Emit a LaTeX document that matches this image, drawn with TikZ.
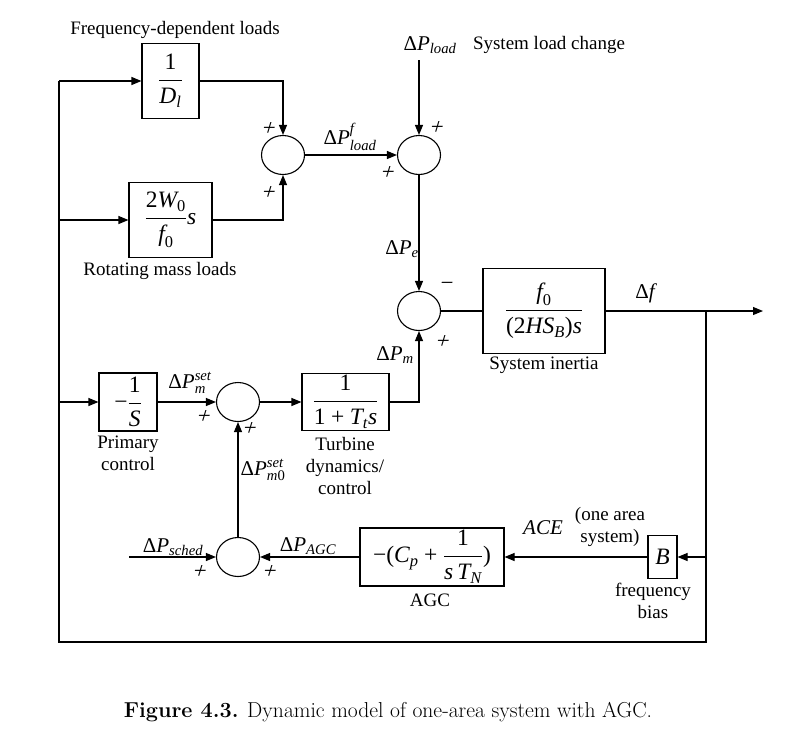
\documentclass[tikz,border=0pt]{standalone}
\usepackage{fontspec}
\usepackage{amsmath}
\usetikzlibrary{shapes.geometric,arrows.meta}
\newfontfamily\tnr{Liberation Serif}
\newcommand\tu[1]{\text{\tnr #1}}
\newcommand\ti[1]{\text{\tnr\itshape #1}}
\newcommand\tfont{\tnr\fontsize{19}{22}\selectfont}
\newcommand\mfont{\fontsize{21}{24}\selectfont}
\newcommand\bfont{\fontsize{23.5}{26}\selectfont}
\begin{document}
\begin{tikzpicture}[x=1pt,y=-1pt,line width=1.1pt,
  >={Triangle[length=10pt,width=8pt]},
  blk/.style={draw,rectangle,inner sep=0pt,font=\bfont},
  sm/.style={draw,ellipse,minimum width=43pt,minimum height=39pt,inner sep=0pt},
  lbl/.style={font=\tfont,inner sep=0pt,align=center},
  mlbl/.style={font=\mfont,inner sep=0pt},
  pl/.style={font=\fontsize{23}{24}\selectfont,inner sep=0pt,xslant=0.3}]
\useasboundingbox (0,0) rectangle (811,740);
% blocks
\node[blk,minimum width=57pt,minimum height=75pt] (D) at (170.5,81) {$\dfrac{\tu{1}}{\ti{D}_{\ti{l}}}$};
\node[blk,minimum width=83pt,minimum height=75pt] (W) at (170.5,220) {$\dfrac{\tu{2}\ti{W}_{\tu{0}}}{\ti{f}_{\tu{0}}}\ti{s}$};
\node[sm] (s1) at (283,155) {};
\node[sm] (s2) at (419,155) {};
\node[sm] (s3) at (419,311) {};
\node[blk,minimum width=122pt,minimum height=85pt] (I) at (544,311) {$\dfrac{\ti{f}_{\tu{0}}}{\tu{(2}\ti{HS}_{\ti{B}}\tu{)}\ti{s}}$};
\node[blk,minimum width=58pt,minimum height=58pt] (P) at (128,402) {$\tu{−}\dfrac{\tu{1}}{\ti{S}}$};
\node[sm] (s4) at (238,402) {};
\node[blk,minimum width=87pt,minimum height=57pt] (T) at (345.5,402) {$\dfrac{\tu{1}}{\tu{1}\mathbin{\tu{+}}\ti{T}_{\ti{t}}\ti{s}}$};
\node[sm] (s5) at (238,557) {};
\node[blk,minimum width=144pt,minimum height=58pt] (A) at (432,557) {$\tu{−(}\ti{C}_{\ti{p}}\mathbin{\tu{+}}\dfrac{\tu{1}}{\ti{s}\,\ti{T}_{\ti{N}}}\tu{)}$};
\node[blk,minimum width=29pt,minimum height=43pt] (B) at (662.5,557) {$\ti{B}$};
% coordinates
\coordinate (tl) at (59,81);
\coordinate (ml) at (59,220);
\coordinate (pl) at (59,402);
\coordinate (bl) at (59,642);
\coordinate (brc) at (706,642);
\coordinate (bm) at (706,557);
\coordinate (fr) at (706,311);
\coordinate (out) at (763,311);
\coordinate (ld) at (419,60);
\coordinate (sch) at (129,557);
% connectors
\draw (tl) -- (bl) -- (brc) -- (fr);
\draw[->] (tl) -- (D);
\draw[->] (ml) -- (W);
\draw[->] (pl) -- (P);
\draw[->] (bm) -- (B);
\draw[->] (D.east) -| (s1.north);
\draw[->] (W.east) -| (s1.south);
\draw[->] (s1) -- (s2);
\draw[->] (ld) -- (s2.north);
\draw[->] (s2) -- (s3);
\draw (s3) -- (I);
\draw[->] (I) -- (out);
\draw[->] (T.east) -| (s3.south);
\draw[->] (P) -- (s4);
\draw[->] (s4) -- (T);
\draw[->] (s5) -- (s4);
\draw[->] (sch) -- (s5);
\draw[->] (A) -- (s5);
\draw[->] (B) -- (A);
% text labels
\node[lbl] (t1) at (175,30) {Frequency-dependent loads};
\node[lbl] (t2) at (160,271) {Rotating mass loads};
\node[lbl] (t3) at (549,45) {System load change};
\node[lbl] (t4) at (544,365) {System inertia};
\node[lbl] (t5) at (128,453) {Primary\\control};
\node[lbl] (t6) at (345,466) {Turbine\\dynamics/\\control};
\node[lbl] (t7) at (430,600) {AGC};
\node[lbl] (t8) at (610,527) {(one area\\system)};
\node[lbl] (t9) at (653,601) {frequency\\bias};
% math labels
\node[mlbl] (m1) at (430,45) {$\tu{Δ}\ti{P}_{\ti{load}}$};
\node[mlbl] (m2) at (350,137) {$\tu{Δ}\ti{P}^{\ti{f}}_{\ti{load}}$};
\node[mlbl] (m3) at (402,249) {$\tu{Δ}\ti{P}_{\ti{e}}$};
\node[mlbl] (m4) at (395,355) {$\tu{Δ}\ti{P}_{\ti{m}}$};
\node[mlbl] (m5) at (645,293) {$\tu{Δ}\ti{f}$};
\node[mlbl] (m6) at (190,383) {$\tu{Δ}\ti{P}^{\ti{set}}_{\ti{m}}$};
\node[mlbl] (m7) at (263,470) {$\tu{Δ}\ti{P}^{\ti{set}}_{\ti{m}\tu{0}}$};
\node[mlbl] (m8) at (173,547) {$\tu{Δ}\ti{P}_{\ti{sched}}$};
\node[mlbl] (m9) at (308,546) {$\tu{Δ}\ti{P}_{\ti{AGC}}$};
\node[mlbl] (m10) at (543,528) {$\ti{ACE}$};
% signs
\node[pl] (p1) at (269,129) {\tnr +};
\node[pl] (p2) at (269,193) {\tnr +};
\node[pl] (p3) at (437,128) {\tnr +};
\node[pl] (p4) at (388,173) {\tnr +};
\node[pl,xslant=0] (p5) at (446,286) {\tnr −};
\node[pl] (p6) at (443,342) {\tnr +};
\node[pl] (p7) at (204,417) {\tnr +};
\node[pl] (p8) at (250,429) {\tnr +};
\node[pl] (p9) at (200,572) {\tnr +};
\node[pl] (p10) at (270,572) {\tnr +};
% caption
\node[inner sep=0pt,font=\fontsize{21.6}{24}\selectfont] (cap) at (388,712) {\textbf{Figure 4.3.} Dynamic model of one-area system with AGC.};
\end{tikzpicture}
\end{document}
